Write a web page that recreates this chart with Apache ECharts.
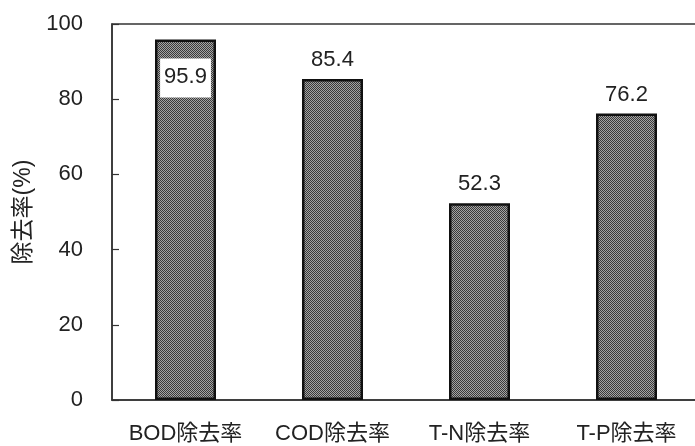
<!DOCTYPE html>
<html>
<head>
<meta charset="utf-8">
<script src="https://cdn.jsdelivr.net/npm/echarts@6/dist/echarts.min.js"></script>
<style>
html,body{margin:0;padding:0;background:#fff;}
#chart{width:695px;height:446px;}
</style>
</head>
<body>
<div id="chart"></div>
<script>
var categories = ['BOD除去率', 'COD除去率', 'T-N除去率', 'T-P除去率'];
var removalRates = [95.9, 85.4, 52.3, 76.2];
var yTicks = { min: 0, max: 100, interval: 20 };
var yAxisName = '除去率(%)';

var FONT = "'Liberation Sans', 'Noto Sans CJK JP', sans-serif";

// fine checker pattern fill
var pc = document.createElement('canvas');
pc.width = 2; pc.height = 2;
var pctx = pc.getContext('2d');
pctx.fillStyle = '#a4a4a4'; pctx.fillRect(0, 0, 2, 2);
pctx.fillStyle = '#3a3a3a'; pctx.fillRect(0, 0, 1, 1); pctx.fillRect(1, 1, 1, 1);

var chart = echarts.init(document.getElementById('chart'), null, { renderer: 'canvas' });

var seriesData = removalRates.map(function (v, i) {
  var item = { value: v };
  if (v > 90) {
    item.label = {
      position: 'insideTop',
      distance: 19,
      backgroundColor: '#ffffff',
      padding: [8, 4, 9, 4]
    };
  }
  return item;
});

chart.setOption({
  animation: false,
  backgroundColor: '#ffffff',
  grid: {
    left: 112, right: -5, top: 24, bottom: 46,
    outerBoundsMode: 'none',
    containLabel: false,
    show: true, borderColor: '#333', borderWidth: 1.5, backgroundColor: 'transparent'
  },
  xAxis: {
    type: 'category',
    data: categories,
    axisLine: { lineStyle: { color: '#333', width: 1.5 } },
    axisTick: { inside: true, length: 8, lineStyle: { color: '#333', width: 1.2 } },
    axisLabel: { interval: 0, hideOverlap: false, color: '#222', fontSize: 22, fontFamily: FONT, margin: 23 }
  },
  yAxis: {
    type: 'value',
    min: yTicks.min, max: yTicks.max, interval: yTicks.interval,
    name: yAxisName,
    nameLocation: 'middle',
    nameRotate: 90,
    nameGap: 77,
    nameTextStyle: { color: '#222', fontSize: 23, fontFamily: FONT },
    axisLine: { show: true, lineStyle: { color: '#333', width: 1.5 } },
    axisTick: { show: true, inside: true, length: 7, lineStyle: { color: '#333', width: 1.2 } },
    splitLine: { show: false },
    axisLabel: { color: '#222', fontSize: 22, fontFamily: FONT, margin: 29 }
  },
  series: [{
    type: 'bar',
    data: seriesData,
    barWidth: 61,
    itemStyle: {
      color: { image: pc, repeat: 'repeat' },
      borderColor: '#111',
      borderWidth: 2.5
    },
    label: {
      show: true,
      position: 'top',
      distance: 8,
      color: '#222',
      fontSize: 22,
      fontFamily: FONT,
      formatter: function (p) { return p.value.toFixed(1); }
    }
  }]
});
</script>
</body>
</html>
